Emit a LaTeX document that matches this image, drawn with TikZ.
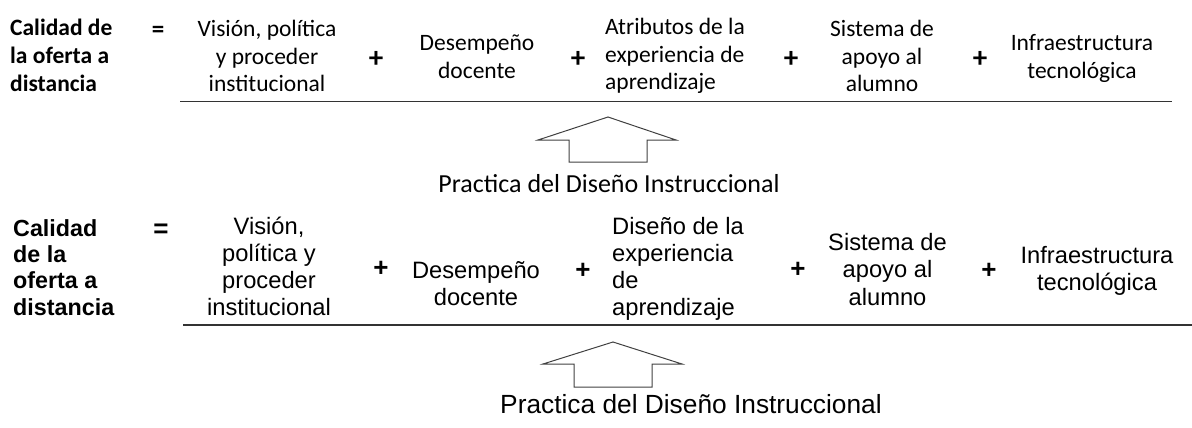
\documentclass[tikz,border=0pt]{standalone}
\usepackage{fontspec}
\setmainfont{Carlito}
\newfontfamily\arialf{Liberation Sans}
\newfontfamily\calf{Carlito}
\begin{document}
\begin{tikzpicture}[x=1pt,y=-1pt,
  ct/.style={font=\calf\fontsize{23.5}{27.5}\selectfont, inner sep=0, anchor=base, align=center},
  ctl/.style={ct, anchor=base west, align=left},
  csym/.style={font=\calf\bfseries\fontsize{29}{30}\selectfont, inner sep=0, anchor=center},
  cbl/.style={font=\calf\bfseries\fontsize{23.5}{28}\selectfont, inner sep=0, anchor=base west, align=left},
  ar/.style={font=\arialf\fontsize{23.7}{26.7}\selectfont, inner sep=0, anchor=base, align=center},
  arl/.style={ar, anchor=base west, align=left},
  asym/.style={font=\arialf\bfseries\fontsize{26}{28}\selectfont, inner sep=0, anchor=center},
  arbl/.style={font=\arialf\bfseries\fontsize{23.3}{26.3}\selectfont, inner sep=0, anchor=base west, align=left},
  rulel/.style={draw=black!80, line width=1.5pt},
  uparrow/.style={draw=black!75, line width=1pt, line join=miter},
]
\useasboundingbox (0,0) rectangle (1192,428);

% ---------- top equation (Carlito) ----------
\node[cbl] (q1) at (10,92) {Calidad de\\la oferta a\\distancia};
\node[csym, font=\calf\bfseries\fontsize{25}{28}\selectfont] (eq1) at (158,32) {=};
\node[ct] (v1) at (267,92) {Visión, política\\y proceder\\institucional};
\node[csym] (p1) at (376,59) {+};
\node[ct] (d1) at (477,78) {Desempeño\\docente};
\node[csym] (p2) at (578,59) {+};
\node[ctl] (a1) at (605,90) {Atributos de la\\experiencia de\\aprendizaje};
\node[csym] (p3) at (791,59) {+};
\node[ct] (s1) at (882,92) {Sistema de\\apoyo al\\alumno};
\node[csym] (p4) at (980,59) {+};
\node[ct] (i1) at (1082,78) {Infraestructura\\tecnológica};
\coordinate (r1a) at (180,101.5);
\coordinate (r1b) at (1172,101.5);
\draw[rulel] (r1a) -- (r1b);
\draw[uparrow] (608,117) -- (676,140) -- (647,140) -- (647,162) -- (569,162) -- (569,140) -- (538,140) -- cycle;
\node[font=\calf\fontsize{26}{30}\selectfont, inner sep=0, anchor=base] (pr1) at (609,192) {Practica del Diseño Instruccional};

% ---------- bottom equation (Arial-like) ----------
\node[arbl] (q2) at (13,315) {Calidad\\de la\\oferta a\\distancia};
\node[asym] (eq2) at (161,231) {=};
\node[ar] (v2) at (269,315) {Visión,\\política y\\proceder\\institucional};
\node[asym] (p5) at (381,269) {+};
\node[ar, font=\arialf\fontsize{23.7}{27}\selectfont] (d2) at (476,305) {Desempeño\\docente};
\node[asym] (p6) at (583,271) {+};
\node[arl] (ds2) at (612,315) {Diseño de la\\experiencia\\de\\aprendizaje};
\node[asym] (p7) at (798,270) {+};
\node[ar, font=\arialf\fontsize{23.7}{27.5}\selectfont] (s2) at (887.5,305) {Sistema de\\apoyo al\\alumno};
\node[asym] (p8) at (989,271) {+};
\node[ar, font=\arialf\fontsize{23.7}{27}\selectfont] (i2) at (1097,290) {Infraestructura\\tecnológica};
\coordinate (r2a) at (183,325);
\coordinate (r2b) at (1192,325);
\draw[rulel] (r2a) -- (r2b);
\draw[uparrow] (613,342) -- (682,364) -- (652,364) -- (652,387) -- (574,387) -- (574,364) -- (543,364) -- cycle;
\node[font=\arialf\fontsize{26.3}{30}\selectfont, inner sep=0, anchor=base] (pr2) at (691,413) {Practica del Diseño Instruccional};
\end{tikzpicture}
\end{document}
